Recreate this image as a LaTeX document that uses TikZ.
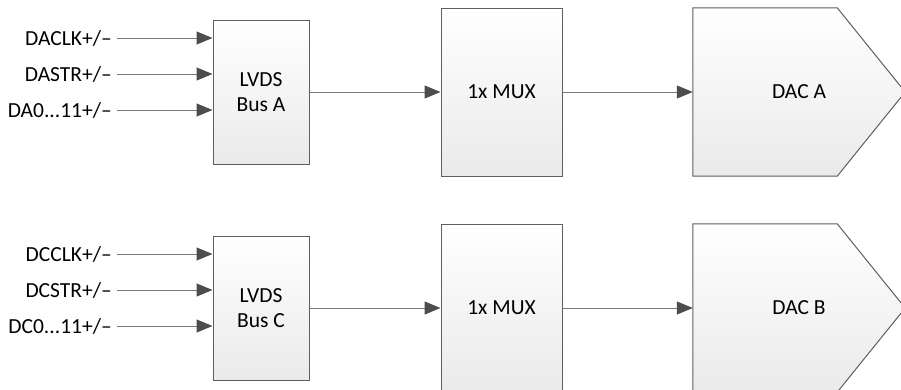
\documentclass[tikz,border=0pt]{standalone}
\usepackage{fontspec}
\setmainfont{Carlito}
\usetikzlibrary{arrows.meta,backgrounds}
\definecolor{edgegray}{HTML}{5F5F5F}
\definecolor{wiregray}{HTML}{7A7A7A}
\definecolor{tipgray}{HTML}{4D4D4D}
\definecolor{shadegray}{HTML}{EAEAEA}

\begin{document}
\begin{tikzpicture}[x=1pt, y=1pt,
      blk/.style={draw=edgegray, line width=1pt, top color=white, bottom color=shadegray,
        align=center, inner sep=0pt, font=\fontsize{21.5}{25}\selectfont},
      dactxt/.style={minimum width=212, minimum height=168, inner sep=0pt,
        font=\fontsize{21.5}{25}\selectfont},
      sig/.style={anchor=east, inner xsep=5pt, inner ysep=0pt, font=\fontsize{21.5}{25}\selectfont},
      arr/.style={-{Triangle[length=16pt, width=13pt, color=tipgray]}, line width=1pt, draw=wiregray}
    ]
      \useasboundingbox (0,0) rectangle (901,-389);
      % channel A
      \node[sig] (clka) at (117,-38)  {DACLK+/–};
      \node[sig] (stra) at (117,-74)  {DASTR+/–};
      \node[sig] (data) at (117,-110) {DA0...11+/–};
      \node[blk, minimum width=96, minimum height=144]  (lvdsa) at (261,-92)   {LVDS\\Bus A};
      \node[blk, minimum width=121, minimum height=168] (muxa)  at (501.5,-92) {1x MUX};
      \node[dactxt] (daca) at (799,-92) {DAC A};
      % channel C / B
      \node[sig] (clkc) at (117,-254) {DCCLK+/–};
      \node[sig] (strc) at (117,-290) {DCSTR+/–};
      \node[sig] (datc) at (117,-326) {DC0...11+/–};
      \node[blk, minimum width=96, minimum height=144]  (lvdsc) at (261,-308)   {LVDS\\Bus C};
      \node[blk, minimum width=121, minimum height=168] (muxb)  at (501.5,-308) {1x MUX};
      \node[dactxt] (dacb) at (799,-308) {DAC B};
      \begin{scope}[on background layer]
        \path[blk] (daca.north west) -- ([xshift=-68pt]daca.north east) -- (daca.east)
          -- ([xshift=-68pt]daca.south east) -- (daca.south west) -- cycle;
        \path[blk] (dacb.north west) -- ([xshift=-68pt]dacb.north east) -- (dacb.east)
          -- ([xshift=-68pt]dacb.south east) -- (dacb.south west) -- cycle;
      \end{scope}
      \draw[arr] (clka) -- (clka -| lvdsa.west); \draw[arr] (stra) -- (stra -| lvdsa.west);
      \draw[arr] (data) -- (data -| lvdsa.west);
      \draw[arr] (lvdsa) -- (muxa); \draw[arr] (muxa) -- (daca);
      \draw[arr] (clkc) -- (clkc -| lvdsc.west); \draw[arr] (strc) -- (strc -| lvdsc.west);
      \draw[arr] (datc) -- (datc -| lvdsc.west);
      \draw[arr] (lvdsc) -- (muxb); \draw[arr] (muxb) -- (dacb);
    \end{tikzpicture}
\end{document}
